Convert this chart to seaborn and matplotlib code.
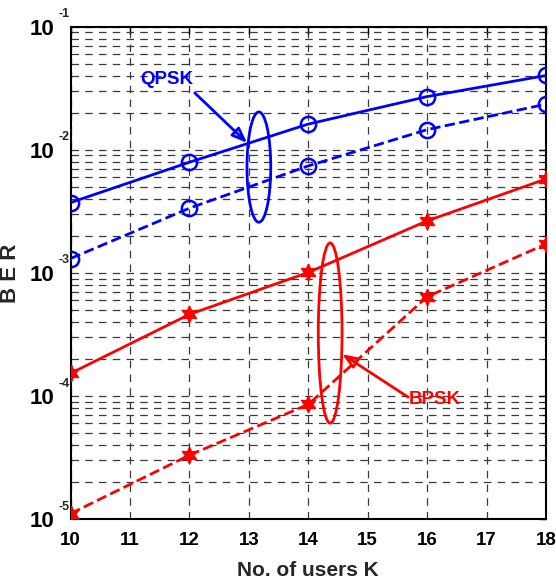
import numpy as np
import pandas as pd
import matplotlib
matplotlib.use("Agg")
import matplotlib.pyplot as plt
import matplotlib.transforms as mtransforms
from matplotlib.patches import Ellipse
import seaborn as sns

# Number of active users
users = [10, 12, 14, 16, 18]

# Bit error rates
qpsk_solid = [3.73e-3, 7.94e-3, 1.62e-2, 2.71e-2, 4.02e-2]
qpsk_dashed = [1.31e-3, 3.36e-3, 7.41e-3, 1.46e-2, 2.35e-2]
bpsk_solid = [1.53e-4, 4.61e-4, 1.01e-3, 2.65e-3, 5.8e-3]
bpsk_dashed = [1.11e-5, 3.31e-5, 8.55e-5, 6.41e-4, 1.72e-3]

x_ticks = list(range(10, 19))
y_ticks = [1e-5, 1e-4, 1e-3, 1e-2, 1e-1]
y_exponents = ["-5", "-4", "-3", "-2", "-1"]

sns.set_style("white")
plt.rcParams["font.family"] = ["Liberation Sans", "DejaVu Sans"]
plt.rcParams["font.weight"] = "bold"

fig = plt.figure(figsize=(5.56, 5.82), dpi=100)
ax = fig.add_axes([0.127, 0.108, 0.855, 0.846])

series = [
    (qpsk_solid, "blue", "-", "o"),
    (qpsk_dashed, "blue", "--", "o"),
    (bpsk_solid, "red", "-", (6, 1, 0)),
    (bpsk_dashed, "red", "--", (6, 1, 0)),
]
for vals, col, ls, mk in series:
    df = pd.DataFrame({"K": users, "BER": vals})
    is_circle = mk == "o"
    sns.lineplot(data=df, x="K", y="BER", ax=ax, color=col, linestyle=ls,
                 linewidth=2.0, marker=mk, markersize=11 if is_circle else 12,
                 markerfacecolor="none" if is_circle else col,
                 markeredgecolor=col, markeredgewidth=1.8 if is_circle else 1.0,
                 zorder=4)

ax.set_yscale("log")
ax.set_xlim(10, 18)
ax.set_ylim(1e-5, 1e-1)
ax.set_xticks(x_ticks)
ax.set_xticklabels([str(v) for v in x_ticks], fontsize=13.5, fontweight="bold")
ax.set_yticks(y_ticks)
ax.set_yticklabels(["10"] * len(y_ticks), fontsize=16, fontweight="bold")
ax.yaxis.set_minor_locator(matplotlib.ticker.LogLocator(base=10, subs=np.arange(2, 10)))
ax.yaxis.set_minor_formatter(matplotlib.ticker.NullFormatter())

# Exponents of the decade labels, set small and raised
blend = mtransforms.blended_transform_factory(ax.transAxes, ax.transData)
for val, ex in zip(y_ticks, y_exponents):
    ax.annotate(ex, xy=(0, val), xycoords=blend, xytext=(-9, 9),
                textcoords="offset points", ha="left", va="center",
                fontsize=9, fontweight="bold", annotation_clip=False)

ax.grid(True, which="major", axis="x", color="#3a3a3a", linestyle=(0, (6, 5)), linewidth=0.9)
ax.grid(True, which="both", axis="y", color="#3a3a3a", linestyle=(0, (6, 5)), linewidth=0.9)
ax.tick_params(which="both", direction="in", top=True, right=True, colors="black")
ax.tick_params(which="major", length=5, width=1)
ax.tick_params(which="minor", length=3, width=0.8)
ax.tick_params(axis="x", which="major", pad=9)
ax.tick_params(axis="y", which="major", pad=12)
for s in ax.spines.values():
    s.set_visible(True)
    s.set_color("black")
    s.set_linewidth(1.5)

ax.set_xlabel("No. of users K", fontsize=15, fontweight="bold", labelpad=9)
ax.set_ylabel("B E R", fontsize=16, fontweight="bold")
ax.yaxis.set_label_coords(-0.105, 0.5)

# Group markers: ellipses and labelled arrows
ax.add_patch(Ellipse((0.396, 0.715), 0.05, 0.224, transform=ax.transAxes,
                     fill=False, edgecolor="blue", linewidth=2, zorder=5))
ax.add_patch(Ellipse((0.546, 0.378), 0.05, 0.366, transform=ax.transAxes,
                     fill=False, edgecolor="red", linewidth=2, zorder=5))

ax.annotate("", xy=(12.97, 0.0114), xytext=(12.09, 0.029),
            arrowprops=dict(arrowstyle="-|>,head_length=0.9,head_width=0.35",
                            color="blue", lw=2, fill=False, shrinkA=0, shrinkB=0), zorder=6)
ax.text(11.62, 0.0371, "QPSK", color="blue", fontsize=13.5, fontweight="bold",
        ha="center", va="center", zorder=6)

ax.annotate("", xy=(14.57, 2.19e-4), xytext=(15.68, 9.8e-5),
            arrowprops=dict(arrowstyle="-|>,head_length=0.9,head_width=0.35",
                            color="red", lw=2, fill=False, shrinkA=0, shrinkB=0), zorder=6)
ax.text(16.13, 9.46e-5, "BPSK", color="red", fontsize=13.5, fontweight="bold",
        ha="center", va="center", zorder=6)

fig.savefig("out.png", dpi=100)
